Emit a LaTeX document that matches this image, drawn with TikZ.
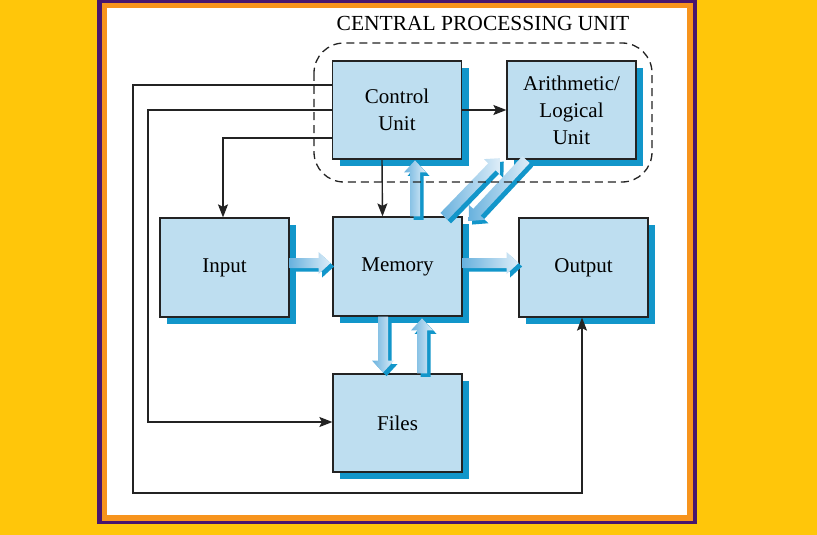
\documentclass[tikz,border=0pt]{standalone}
\usepackage{fontspec}
\setmainfont{Liberation Serif}
\usetikzlibrary{calc,shadows,arrows.meta}
\definecolor{bgyellow}{RGB}{255,198,10}
\definecolor{framepurple}{RGB}{72,22,110}
\definecolor{frameorange}{RGB}{247,148,29}
\definecolor{boxblue}{RGB}{190,222,240}
\definecolor{shadowblue}{RGB}{18,150,202}
\definecolor{linegray}{RGB}{35,35,35}
\definecolor{arrtail}{RGB}{105,178,222}
\definecolor{arrhead}{RGB}{222,237,248}
\newcommand\fatarrow[3]{%
  \begin{scope}[shift={($#1+(3.5,3.5)$)}, rotate=#2]
    \fill[shadowblue] (0,-5) -- (#3-12,-5) -- (#3-12,-11) -- (#3,0) -- (#3-12,11) -- (#3-12,5) -- (0,5) -- cycle;
  \end{scope}
  \begin{scope}[shift={#1}, rotate=#2]
    \shade[left color=arrtail, right color=arrhead] (0,-5) -- (#3-12,-5) -- (#3-12,-11) -- (#3,0) -- (#3-12,11) -- (#3-12,5) -- (0,5) -- cycle;
  \end{scope}
}
\begin{document}
\begin{tikzpicture}[x=1pt,y=-1pt,
  box/.style={draw=linegray, line width=1.2pt, fill=boxblue, minimum width=129pt, minimum height=98pt, inner sep=0pt, align=center, font=\fontsize{21}{27}\selectfont, general shadow={fill=shadowblue, shadow xshift=7pt, shadow yshift=-7pt}},
  conn/.style={draw=linegray, line width=1.4pt},
  arr/.style={conn, -{Stealth[length=13pt,width=10pt,inset=2.5pt]}}
]
\useasboundingbox (0,0) rectangle (817,535);
\fill[bgyellow] (0,0) rectangle (817,535);
\fill[framepurple] (97,-5) rectangle (697,524);
\fill[frameorange] (102,3) rectangle (693,521);
\fill[white] (107,8) rectangle (687,515);

\node[font=\fontsize{21.5}{26}\selectfont] (title) at (483,23) {CENTRAL PROCESSING UNIT};

\node[box] (ctrl) at (397,110) {Control\\Unit};
\node[box] (alu) at (571.5,110) {Arithmetic/\\Logical\\Unit};
\node[box, minimum height=99pt] (inp) at (224.5,267.5) {Input};
\node[box, minimum height=99pt] (mem) at (397.5,266.5) {Memory};
\node[box, minimum height=99pt] (out) at (583.5,267.5) {Output};
\node[box] (files) at (397.5,423) {Files};

\coordinate (a1) at (133,85);
\coordinate (a2) at (133,493);
\coordinate (b1) at (148,110);
\coordinate (b2) at (148,422);

\draw[arr] ([yshift=25pt]ctrl.west) -- (a1) -- (a2) -| ([xshift=-1.5pt]out.south);
\draw[arr] (ctrl.west) -- (b1) -- (b2) -- (b2 -| files.west);
\draw[arr] ([yshift=-28pt]ctrl.west) -| ([xshift=-1.5pt]inp.north);
\draw[arr] ([xshift=-15pt]ctrl.south) -- ([xshift=-15pt]mem.north);
\draw[arr] (ctrl.east) -- (alu.west);

\fatarrow{([yshift=4.5pt]inp.east)}{0}{41}
\fatarrow{([yshift=3.5pt]mem.east)}{0}{56}
\fatarrow{([xshift=17.5pt]mem.north)}{90}{56}
\fatarrow{([xshift=-14.5pt]mem.south)}{-90}{56}
\fatarrow{([xshift=24.5pt]files.north)}{90}{55}
\fatarrow{([xshift=46.5pt]mem.north)}{46}{81}
\fatarrow{([xshift=-45.5pt]alu.south)}{-133}{84}

\draw[linegray, line width=1.3pt, dash pattern=on 8pt off 5pt, rounded corners=30pt] (314,43) rectangle (652,182);
\end{tikzpicture}
\end{document}
